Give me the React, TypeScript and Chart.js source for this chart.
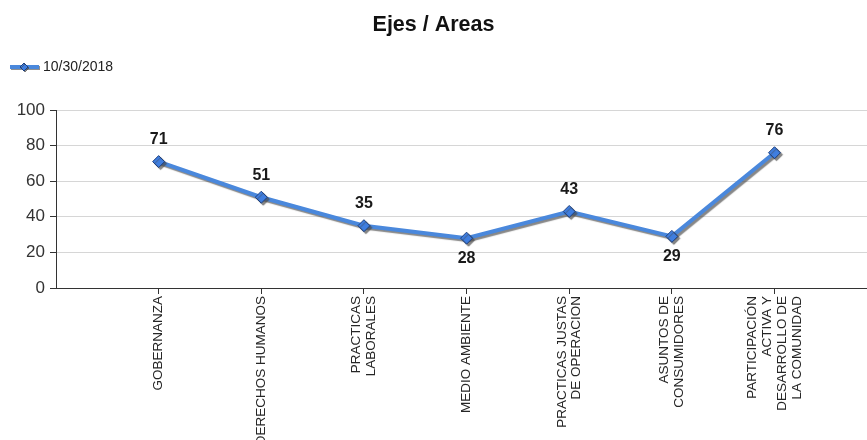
import { useEffect, useRef } from 'react';
import { Chart, registerables } from 'chart.js';

Chart.register(...registerables);

const chartTitle = 'Ejes / Areas';
const seriesLabel = '10/30/2018';
const categories: (string | string[])[] = [
  'GOBERNANZA',
  'DERECHOS HUMANOS',
  ['PRACTICAS', 'LABORALES'],
  'MEDIO AMBIENTE',
  ['PRACTICAS JUSTAS', 'DE OPERACION'],
  ['ASUNTOS DE', 'CONSUMIDORES'],
  ['PARTICIPACIÓN', 'ACTIVA Y', 'DESARROLLO DE', 'LA COMUNIDAD'],
];
const values = [71, 51, 35, 28, 43, 29, 76];
const yMin = 0;
const yMax = 100;
const yStep = 20;

const VIEW_WIDTH = 867;
const LINE_COLOR = '#4a88dc';
const POINT_FILL = '#3f7ee0';
const POINT_BORDER = '#1d3f7c';
const FONT = 'Arial, "Liberation Sans", sans-serif';

const shadowPlugin = {
  id: 'lineShadow',
  beforeDatasetDraw(chart: any) {
    const ctx = chart.ctx;
    ctx.save();
    ctx.shadowColor = 'rgba(70,70,70,0.65)';
    ctx.shadowOffsetX = 2;
    ctx.shadowOffsetY = 2;
    ctx.shadowBlur = 1;
  },
  afterDatasetDraw(chart: any) {
    chart.ctx.restore();
  },
};

// centre multi-line rotated category labels on their tick
const centerLabelsPlugin = {
  id: 'centerLabels',
  beforeDraw(chart: any) {
    const scale = chart.scales.x;
    if (!scale) return;
    const items = scale.getLabelItems(chart.chartArea);
    items.forEach((item: any) => {
      if (Array.isArray(item.label) && item.label.length > 1 && !item._centered) {
        item.textOffset -= ((item.label.length - 1) * item.font.lineHeight) / 2;
        item._centered = true;
      }
    });
  },
};

const valueLabelPlugin = {
  id: 'valueLabels',
  afterDatasetsDraw(chart: any) {
    const ctx = chart.ctx;
    const data = chart.data.datasets[0].data as (number | null)[];
    const meta = chart.getDatasetMeta(0);
    ctx.save();
    ctx.font = `bold 16px ${FONT}`;
    ctx.fillStyle = '#1a1a1a';
    ctx.textAlign = 'center';
    ctx.textBaseline = 'middle';
    meta.data.forEach((pt: any, i: number) => {
      const v = data[i];
      if (v == null) return;
      const prev = data[i - 1];
      const next = data[i + 1];
      const isMin = prev != null && next != null && v < prev && v < next;
      const y = isMin ? pt.y + 20 : pt.y - 22;
      ctx.fillText(String(v), pt.x, y);
    });
    ctx.restore();
  },
};

// title (centred on the visible window) and legend
const headerPlugin = {
  id: 'header',
  afterDraw(chart: any) {
    const ctx = chart.ctx;
    const ds = chart.data.datasets[0];
    ctx.save();
    ctx.font = `bold 21.5px ${FONT}`;
    ctx.fillStyle = '#111';
    ctx.textAlign = 'center';
    ctx.textBaseline = 'middle';
    ctx.fillText(chartTitle, VIEW_WIDTH / 2, 25);

    const y = 67;
    ctx.strokeStyle = LINE_COLOR;
    ctx.lineWidth = 4;
    ctx.shadowColor = 'rgba(70,70,70,0.6)';
    ctx.shadowOffsetX = 1;
    ctx.shadowOffsetY = 1;
    ctx.beginPath();
    ctx.moveTo(10, y);
    ctx.lineTo(39, y);
    ctx.stroke();
    ctx.fillStyle = POINT_FILL;
    ctx.strokeStyle = POINT_BORDER;
    ctx.lineWidth = 1;
    ctx.beginPath();
    ctx.moveTo(24, y - 4);
    ctx.lineTo(28, y);
    ctx.lineTo(24, y + 4);
    ctx.lineTo(20, y);
    ctx.closePath();
    ctx.fill();
    ctx.stroke();
    ctx.shadowColor = 'transparent';
    ctx.font = `14px ${FONT}`;
    ctx.fillStyle = '#222';
    ctx.textAlign = 'left';
    ctx.textBaseline = 'middle';
    ctx.fillText(ds.label, 43, y);
    ctx.restore();
  },
};

export default function App() {
  const canvasRef = useRef<HTMLCanvasElement | null>(null);

  useEffect(() => {
    const canvas = canvasRef.current;
    if (!canvas) return;
    const labels = ['', ...categories, ''];
    const data = [null, ...values, null];
    const chart = new Chart(canvas, {
      type: 'line',
      data: {
        labels,
        datasets: [
          {
            label: seriesLabel,
            data,
            borderColor: LINE_COLOR,
            borderWidth: 4,
            backgroundColor: POINT_FILL,
            pointStyle: 'rectRot',
            pointRadius: 6,
            pointBackgroundColor: POINT_FILL,
            pointBorderColor: POINT_BORDER,
            pointBorderWidth: 1,
            tension: 0,
            fill: false,
            spanGaps: false,
          },
        ],
      },
      options: {
        responsive: false,
        animation: false,
        devicePixelRatio: 1,
        layout: { padding: { left: 0, right: 0, top: 110, bottom: 0 } },
        plugins: {
          legend: { display: false },
          tooltip: { enabled: false },
          title: { display: false },
        },
        scales: {
          x: {
            type: 'category',
            offset: false,
            grid: {
              drawOnChartArea: false,
              drawTicks: true,
              tickLength: 6,
              tickColor: (c: any) => (c.index === 0 ? 'rgba(0,0,0,0)' : '#333'),
            },
            border: { display: true, color: '#333', width: 1 },
            ticks: {
              autoSkip: false,
              maxRotation: 90,
              minRotation: 90,
              padding: 2,
              color: '#262626',
              font: { family: FONT, size: 13.5, lineHeight: 1.1 },
            },
            afterFit(scale: any) {
              scale.height = 152;
            },
          },
          y: {
            min: yMin,
            max: yMax,
            grid: {
              color: '#d6d6d6',
              lineWidth: 1,
              drawTicks: true,
              tickLength: 6,
              tickColor: '#333',
            },
            border: { display: true, color: '#333', width: 1 },
            ticks: {
              stepSize: yStep,
              padding: 5,
              color: '#333',
              font: { family: FONT, size: 17 },
            },
            afterFit(scale: any) {
              scale.width = 56;
            },
          },
        },
      },
      plugins: [shadowPlugin, centerLabelsPlugin, valueLabelPlugin, headerPlugin],
    } as any);
    return () => chart.destroy();
  }, []);

  return (
    <div style={{ position: 'absolute', left: 0, top: 0, width: 894, height: 440, background: '#fff' }}>
      <canvas ref={canvasRef} width={894} height={440} style={{ display: 'block' }} />
    </div>
  );
}
